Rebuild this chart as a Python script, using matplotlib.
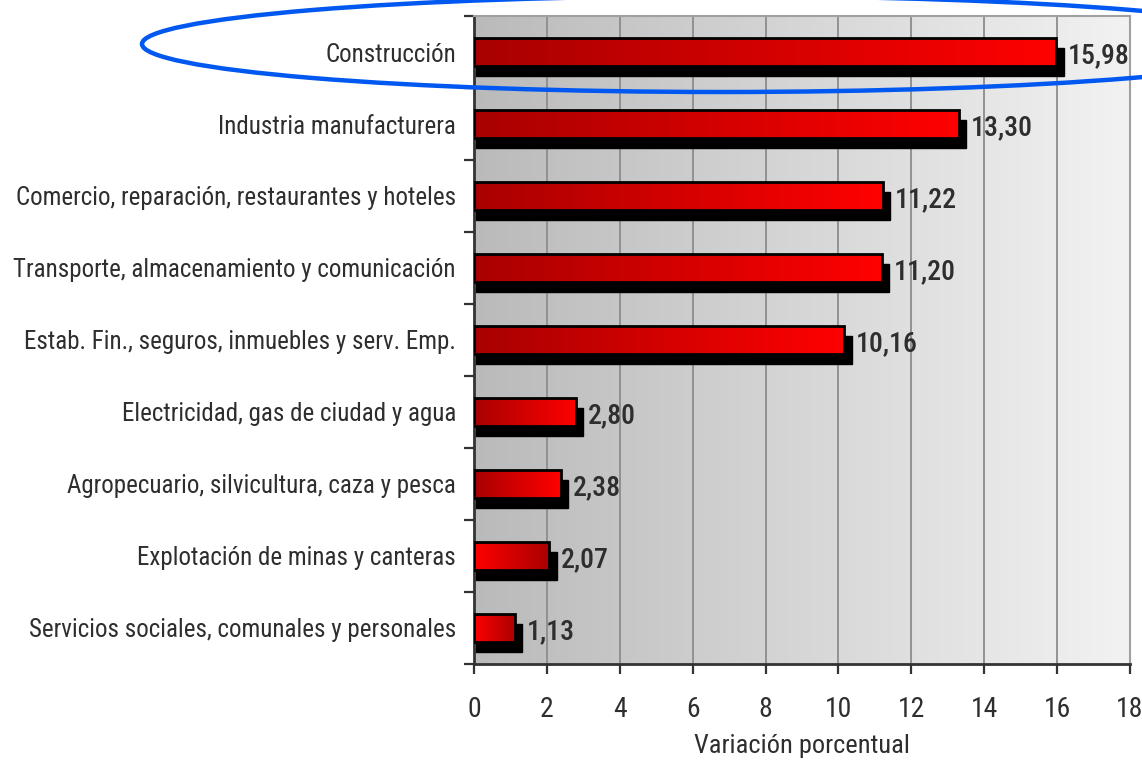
import numpy as np
import matplotlib
matplotlib.use("Agg")
import matplotlib.pyplot as plt
from matplotlib import font_manager
from matplotlib.colors import LinearSegmentedColormap
from matplotlib.patches import Rectangle, Ellipse

categories = [
    "Construcción",
    "Industria manufacturera",
    "Comercio, reparación, restaurantes y hoteles",
    "Transporte, almacenamiento y comunicación",
    "Estab. Fin., seguros, inmuebles y serv. Emp.",
    "Electricidad, gas de ciudad y agua",
    "Agropecuario, silvicultura, caza y pesca",
    "Explotación de minas y canteras",
    "Servicios sociales, comunales y personales",
]
values = [15.98, 13.30, 11.22, 11.20, 10.16, 2.80, 2.38, 2.07, 1.13]
value_labels = ["15,98", "13,30", "11,22", "11,20", "10,16", "2,80", "2,38", "2,07", "1,13"]
xticks = [0, 2, 4, 6, 8, 10, 12, 14, 16, 18]
xlabel = "Variación porcentual"

avail = {f.name for f in font_manager.fontManager.ttflist}
fam = None
for cand in ["Liberation Sans Narrow", "Roboto Condensed", "Open Sans Condensed", "DejaVu Sans"]:
    if cand in avail:
        fam = cand
        break
plt.rcParams['font.family'] = [fam, 'DejaVu Sans']
stretch = 'condensed'

txt_color = '#2e2e2e'

fig = plt.figure(figsize=(11.42, 7.67), dpi=100)
ax = fig.add_axes([474/1142, 1-664/767, (1130-474)/1142, (664-16)/767])

n = len(categories)
ypos = np.arange(n)
ax.set_xlim(0, 18)
ax.set_ylim(n - 0.5, -0.5)

# background gradient
bg = LinearSegmentedColormap.from_list("bg", [(0.73, 0.73, 0.73), (0.95, 0.95, 0.95)])
ax.imshow(np.linspace(0, 1, 256).reshape(1, -1), cmap=bg, aspect='auto',
          extent=(0, 18, n - 0.5, -0.5), zorder=0, interpolation='bilinear')

for x in xticks[1:-1]:
    ax.axvline(x, color='#8c8c8c', lw=1.3, zorder=1)

red_fwd = LinearSegmentedColormap.from_list("rf", [(0.66, 0, 0), (1.0, 0, 0)])
red_rev = LinearSegmentedColormap.from_list("rr", [(1.0, 0, 0), (0.66, 0, 0)])

h = 0.38
dx = 0.2
dy = 0.14
for i, (v, lab) in enumerate(zip(values, value_labels)):
    y = ypos[i]
    # shadow
    ax.add_patch(Rectangle((0.05, y - h/2 + dy), v + dx - 0.05, h, facecolor='black',
                           edgecolor='black', zorder=2))
    # outline
    ax.add_patch(Rectangle((0, y - h/2), v, h, facecolor='none', edgecolor='black',
                           lw=2.0, zorder=4))
    cm = red_fwd if v > 2.3 else red_rev
    ax.imshow(np.linspace(0, 1, 256).reshape(1, -1), cmap=cm, aspect='auto',
              extent=(0, v, y + h/2, y - h/2), zorder=3, interpolation='bilinear')
    ax.text(v + dx + 0.12, y + 0.05, lab, ha='left', va='center', fontsize=20,
            color=txt_color, fontweight='medium', fontstretch=stretch, zorder=5)

ax.set_xlim(0, 18)
ax.set_ylim(n - 0.5, -0.5)

ax.set_yticks(ypos)
ax.set_yticklabels(categories, fontsize=18, color=txt_color, fontstretch=stretch)
ax.set_yticks(np.arange(-0.5, n, 1), minor=True)
ax.tick_params(axis='y', which='major', length=0, pad=13)
ax.tick_params(axis='y', which='minor', length=7, width=1.6, color='#333333')

ax.set_xticks(xticks)
ax.set_xticklabels([str(t) for t in xticks], fontsize=20, color=txt_color, fontstretch=stretch)
ax.tick_params(axis='x', which='major', length=7, width=1.6, color='#333333', pad=16)
ax.set_xlabel(xlabel, fontsize=19, color=txt_color, labelpad=8, fontstretch=stretch)

for s in ['left', 'bottom']:
    ax.spines[s].set_color('#333333')
    ax.spines[s].set_linewidth(2)
for s in ['top', 'right']:
    ax.spines[s].set_color('#a0a0a0')
    ax.spines[s].set_linewidth(1.5)

# blue highlight ellipse (figure coordinates in pixels)
ell = Ellipse((722, 767 - 44), 1160, 96, transform=None, fill=False,
              edgecolor='#0058f0', lw=3.2, zorder=10)
fig.patches.append(ell)

fig.savefig("out.png", dpi=100)
print(fam)
